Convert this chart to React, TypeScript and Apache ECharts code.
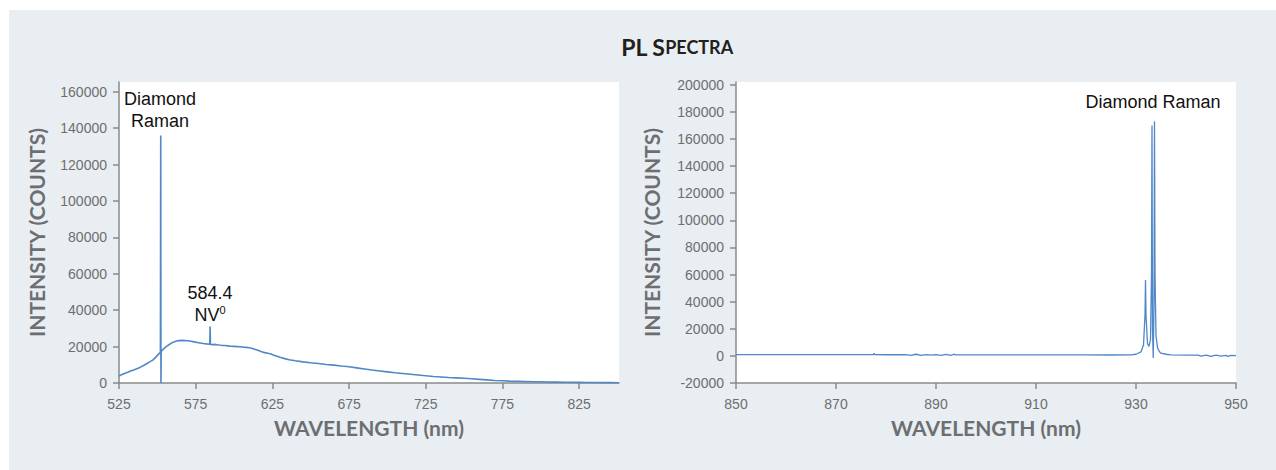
import React, { useEffect, useRef } from "react";
import * as echarts from "echarts";

// Left spectrum: wavelength (nm) and intensity (counts)
const leftWavelength = [
  525, 527, 529, 531, 533, 535, 537, 539, 541, 543, 545, 547, 549, 551, 552.0, 552.2, 552.35, 552.5,
  554, 556, 558, 560, 562, 564, 566, 568, 570, 572, 574, 576, 578, 580, 582, 584.2, 584.4, 584.6,
  586, 588, 590, 592, 594, 596, 598, 600, 602, 604, 606, 608, 610, 612, 614, 616, 618, 620, 622,
  624, 626, 628, 630, 633, 636, 640, 645, 650, 655, 660, 665, 670, 675, 680, 685, 690, 695, 700,
  705, 710, 715, 720, 725, 730, 735, 740, 745, 750, 755, 760, 765, 770, 775, 780, 785, 790, 795,
  800, 805, 810, 815, 820, 825, 830, 835, 840, 845, 851,
];
const leftIntensity = [
  3900, 4700, 5400, 6000, 6700, 7300, 8000, 8700, 9600, 10600, 11600, 12600, 14200, 16000, 16900, 136000, 0, 17300,
  18700, 20100, 21300, 22300, 22900, 23300, 23400, 23300, 23200, 22900, 22600, 22300, 22000, 21700, 21500, 21300, 31000, 21200,
  21100, 21200, 20900, 20700, 20600, 20400, 20200, 20100, 20000, 19900, 19700, 19600, 19400, 19000, 18400, 17800, 17200, 16700, 16300,
  15900, 15300, 14700, 14100, 13400, 12800, 12200, 11600, 11100, 10700, 10200, 9800, 9300, 8900, 8300, 7700, 7100, 6600, 6100,
  5600, 5200, 4800, 4400, 4000, 3600, 3300, 3000, 2800, 2600, 2300, 2000, 1700, 1400, 1200, 1000, 900, 800, 700,
  650, 550, 500, 450, 400, 350, 300, 250, 200, 180, 150,
];

// Right spectrum
const rightWavelength = [
  850, 855, 860, 865, 870, 875, 877.5, 877.6, 877.7, 880, 884, 885, 886, 887, 888, 889, 890, 891, 892, 893,
  893.5, 894, 900, 910, 920, 925, 929, 930, 931, 931.5, 931.8, 931.9, 932.0, 932.3, 932.6, 932.9, 933.1,
  933.2, 933.3, 933.45, 933.6, 933.7, 933.8, 934.0, 934.3, 934.7, 935, 936, 937, 940, 942.4, 943, 944,
  945, 946, 947, 948, 948.4, 949, 950,
];
const rightIntensity = [
  1000, 1000, 950, 950, 900, 900, 900, 2000, 900, 850, 850, 300, 1200, 300, 1000, 500, 900, 400, 1100, 300,
  1200, 800, 800, 750, 700, 650, 800, 1200, 3000, 8000, 30000, 56000, 30000, 9000, 7000, 12000, 60000,
  170000, 20000, -1500, 40000, 173000, 60000, 15000, 6000, 3000, 2000, 1200, 800, 600, 500, -200, 600,
  -300, 500, -200, 400, -300, 300, 200,
];

const leftXTicks = [525, 575, 625, 675, 725, 775, 825];
const leftYTicks = [0, 20000, 40000, 60000, 80000, 100000, 120000, 140000, 160000];
const rightXTicks = [850, 870, 890, 910, 930, 950];
const rightYTicks = [-20000, 0, 20000, 40000, 60000, 80000, 100000, 120000, 140000, 160000, 180000, 200000];

const titleMain = "PL S";
const titleSmall = "PECTRA";
const xName = "WAVELENGTH (nm)";
const yName = "INTENSITY (COUNTS)";

const axisGray = "#8a8a8a";
const labelGray = "#6e6e6e";
const nameGray = "#6d6e71";
const lineBlue = "#4f87c7";

const plain = (v: number) => String(v);

function makeX(gridIndex: number, min: number, max: number, ticks: number[]) {
  return {
    type: "value",
    gridIndex,
    min,
    max,
    name: xName,
    nameLocation: "middle",
    nameGap: 34,
    nameTextStyle: { color: nameGray, fontFamily: "Lato", fontWeight: "bold", fontSize: 21 },
    axisLine: { show: true, onZero: false, lineStyle: { color: axisGray, width: 1.5 } },
    axisTick: { show: true, length: 6, customValues: ticks, lineStyle: { color: axisGray, width: 1.5 } },
    axisLabel: {
      customValues: ticks,
      formatter: plain,
      color: labelGray,
      fontSize: 14,
      fontFamily: "Liberation Sans",
      margin: 14,
    },
    splitLine: { show: false },
  };
}

function makeY(gridIndex: number, min: number, max: number, ticks: number[], gap: number) {
  return {
    type: "value",
    gridIndex,
    min,
    max,
    name: yName,
    nameLocation: "middle",
    nameGap: gap,
    nameTextStyle: { color: nameGray, fontFamily: "Lato", fontWeight: "bold", fontSize: 21 },
    axisLine: { show: true, onZero: false, lineStyle: { color: axisGray, width: 1.5 } },
    axisTick: { show: true, length: 6, customValues: ticks, lineStyle: { color: axisGray, width: 1.5 } },
    axisLabel: {
      customValues: ticks,
      formatter: plain,
      color: labelGray,
      fontSize: 14,
      fontFamily: "Liberation Sans",
      margin: 12,
    },
    splitLine: { show: false },
  };
}

export default function App() {
  const ref = useRef<HTMLDivElement>(null);
  useEffect(() => {
    if (!ref.current) return;
    const chart = echarts.init(ref.current, undefined, { renderer: "svg" });
    const leftData = leftWavelength.map((x, i) => [x, leftIntensity[i]]);
    const rightData = rightWavelength.map((x, i) => [x, rightIntensity[i]]);
    chart.setOption({
      animation: false,
      backgroundColor: "#ffffff",
      grid: [
        { left: 119, top: 82, width: 500, height: 301, show: true, backgroundColor: "#ffffff", borderWidth: 0 },
        { left: 736, top: 82, width: 500, height: 301, show: true, backgroundColor: "#ffffff", borderWidth: 0 },
      ],
      xAxis: [makeX(0, 525, 851, leftXTicks), makeX(1, 850, 950, rightXTicks)],
      yAxis: [makeY(0, 0, 165400, leftYTicks, 72), makeY(1, -20000, 202000, rightYTicks, 74)],
      series: [
        {
          type: "line",
          xAxisIndex: 0,
          yAxisIndex: 0,
          data: leftData,
          showSymbol: false,
          lineStyle: { color: lineBlue, width: 1.6 },
          z: 5,
        },
        {
          type: "line",
          xAxisIndex: 1,
          yAxisIndex: 1,
          data: rightData,
          showSymbol: false,
          lineStyle: { color: lineBlue, width: 1.3 },
          z: 5,
        },
      ],
      graphic: [
        {
          type: "rect",
          z: -10,
          silent: true,
          shape: { x: 9, y: 10, width: 1267, height: 460 },
          style: { fill: "#e8eef2" },
        },
        {
          type: "text",
          z: 100,
          x: 677,
          y: 47,
          style: {
            text: "{a|" + titleMain + "}{b|" + titleSmall + "}",
            align: "center",
            verticalAlign: "middle",
            rich: {
              a: { fontFamily: "Lato", fontWeight: "bold", fontSize: 23, fill: "#231f20" },
              b: { fontFamily: "Lato", fontWeight: "bold", fontSize: 18, fill: "#231f20" },
            },
          },
        },
        {
          type: "text",
          z: 100,
          x: 160,
          y: 110,
          style: {
            text: "Diamond\nRaman",
            align: "center",
            verticalAlign: "middle",
            lineHeight: 22,
            fontFamily: "Liberation Sans",
            fontSize: 18,
            fill: "#111111",
          },
        },
        {
          type: "text",
          z: 100,
          x: 210,
          y: 304,
          style: {
            text: "{n|584.4}\n{n|NV}{s|0}",
            align: "center",
            verticalAlign: "middle",
            rich: {
              n: { fontFamily: "Liberation Sans", fontSize: 18, fill: "#111111", lineHeight: 22 },
              s: { fontFamily: "Liberation Sans", fontSize: 11, fill: "#111111", lineHeight: 22, verticalAlign: "top", padding: [0, 0, 8, 0] },
            },
          },
        },
        {
          type: "text",
          z: 100,
          x: 1153,
          y: 102,
          style: {
            text: "Diamond Raman",
            align: "center",
            verticalAlign: "middle",
            fontFamily: "Liberation Sans",
            fontSize: 18,
            fill: "#111111",
          },
        },
      ],
    });
    return () => chart.dispose();
  }, []);
  return (
    <div
      ref={ref}
      style={{ position: "absolute", left: 0, top: 0, width: 1276, height: 470 }}
    />
  );
}
